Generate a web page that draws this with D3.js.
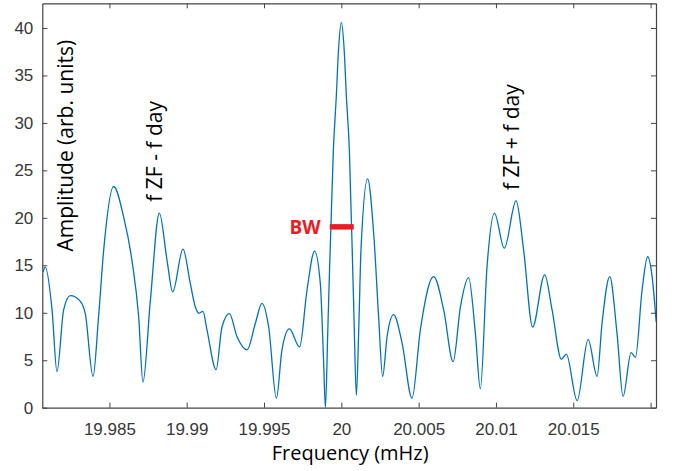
<!DOCTYPE html>
<html lang="en">
<head>
    <meta charset="UTF-8">
    <title>Amplitude spectrum</title>
    <script src="https://d3js.org/d3.v7.min.js"></script>
    <style>
        * {
            margin: 0;
            padding: 0;
            box-sizing: border-box;
        }

        body {
            background: #fff;
            overflow: hidden;
        }

        .tick text {
            font-family: 'Liberation Sans', Arial, sans-serif;
            font-size: 17px;
            fill: #383838;
        }

        .note {
            font-family: 'Open Sans', sans-serif;
            fill: #000;
        }
    </style>
</head>
<body>
    <div id="chart"></div>

    <script>
        // frequency (mHz) and amplitude
        const freq = [
            19.98071, 19.98085, 19.98129, 19.98161, 19.98204, 19.98247, 19.98312, 19.98344,
            19.98394, 19.98430, 19.98463, 19.98527, 19.98592, 19.98646, 19.98689, 19.98717,
            19.98765, 19.98823, 19.98873, 19.98909, 19.98976, 19.99023, 19.99056, 19.99078,
            19.99105, 19.99131, 19.99190, 19.99228, 19.99276, 19.99325, 19.99390, 19.99444,
            19.99487, 19.99530, 19.99580, 19.99616, 19.99664, 19.99730, 19.99778, 19.99827,
            19.99864, 19.99885, 19.99897, 19.99913, 19.99948, 19.99968, 19.99981, 20.00000,
            20.00019, 20.00032, 20.00052, 20.00081, 20.00097, 20.00113, 20.00127, 20.00170,
            20.00209, 20.00241, 20.00267, 20.00296, 20.00338, 20.00393, 20.00457, 20.00511,
            20.00597, 20.00662, 20.00723, 20.00770, 20.00823, 20.00867, 20.00899, 20.00942,
            20.00990, 20.01054, 20.01130, 20.01179, 20.01237, 20.01315, 20.01363, 20.01423,
            20.01455, 20.01525, 20.01596, 20.01654, 20.01686, 20.01736, 20.01783, 20.01822,
            20.01874, 20.01902, 20.01945, 20.01981, 20.02010, 20.02036
        ];
        const amp = [
            14.3, 14.8, 10.3, 3.8, 10.3, 11.8, 11.2, 9.9,
            3.3, 9.6, 16.6, 23.3, 20.1, 15.5, 9.6, 2.7,
            11.3, 20.5, 15.5, 12.2, 16.7, 13.1, 10.6, 9.95,
            10.15, 8.2, 4.0, 8.5, 9.9, 7.5, 6.1, 8.9,
            11.0, 8.5, 1.0, 6.1, 8.3, 6.4, 12.4, 16.5,
            13.1, 5.0, 0.0, 8.5, 27.0, 33.0, 37.5, 40.6,
            37.5, 33.0, 27.1, 10.0, 1.3, 8.5, 16.6, 24.1,
            18.4, 9.6, 3.3, 7.5, 9.8, 6.8, 1.0, 8.2,
            13.8, 10.3, 4.85, 10.6, 13.7, 7.8, 2.0, 14.8,
            20.5, 16.8, 21.8, 16.6, 8.5, 14.0, 10.3, 5.1,
            5.65, 0.75, 7.2, 3.3, 8.9, 13.8, 7.8, 1.2,
            5.8, 5.3, 12.4, 15.9, 13.8, 9.05
        ];

        const xDomain = [19.98066, 20.02035];
        const yDomain = [0, 42.6];
        const xTicks = [19.985, 19.99, 19.995, 20, 20.005, 20.01, 20.015, 20.02];
        const xTickLabels = ['19.985', '19.99', '19.995', '20', '20.005', '20.01', '20.015', ''];
        const yTicks = [0, 5, 10, 15, 20, 25, 30, 35, 40];

        // bandwidth marker: from, to, level
        const bwFreq = [19.99925, 20.00080];
        const bwLevel = 19.05;

        // rotated labels: text, frequency, amplitude (centre)
        const notes = [
            { text: 'Amplitude (arb. units)', f: 19.98265, a: 27.6 },
            { text: 'f ZF - f day', f: 19.98843, a: 27.0 },
            { text: 'f ZF + f day', f: 20.01152, a: 28.5 }
        ];

        const width = 676;
        const height = 471;
        const margin = { left: 42.3, right: 20, top: 3.3, bottom: 63.3 };

        function drawChart() {
            const svg = d3.select('#chart')
                .append('svg')
                .attr('width', width)
                .attr('height', height);

            svg.append('rect')
                .attr('width', width)
                .attr('height', height)
                .attr('fill', '#fff');

            const x = d3.scaleLinear()
                .domain(xDomain)
                .range([margin.left, width - margin.right]);

            const y = d3.scaleLinear()
                .domain(yDomain)
                .range([height - margin.bottom, margin.top]);

            svg.append('defs').append('clipPath')
                .attr('id', 'plotClip')
                .append('rect')
                .attr('x', margin.left)
                .attr('y', margin.top)
                .attr('width', width - margin.left - margin.right)
                .attr('height', height - margin.top - margin.bottom);

            const points = freq.map((f, i) => [f, amp[i]]);

            const line = d3.line()
                .x(d => x(d[0]))
                .y(d => y(d[1]))
                .curve(d3.curveMonotoneX);

            svg.append('path')
                .datum(points)
                .attr('clip-path', 'url(#plotClip)')
                .attr('fill', 'none')
                .attr('stroke', '#0072BD')
                .attr('stroke-width', 1.3)
                .attr('d', line);

            // axes, MATLAB style: ticks inside, box all round
            const bottom = d3.axisBottom(x)
                .tickValues(xTicks)
                .tickFormat((d, i) => xTickLabels[i])
                .tickSizeInner(-5)
                .tickSizeOuter(0)
                .tickPadding(15);

            const top = d3.axisTop(x)
                .tickValues(xTicks)
                .tickFormat('')
                .tickSizeInner(-5)
                .tickSizeOuter(0);

            const left = d3.axisLeft(y)
                .tickValues(yTicks)
                .tickFormat(d3.format('d'))
                .tickSizeInner(-5)
                .tickSizeOuter(0)
                .tickPadding(9);

            const right = d3.axisRight(y)
                .tickValues(yTicks)
                .tickFormat('')
                .tickSizeInner(-5)
                .tickSizeOuter(0);

            const gB = svg.append('g').attr('transform', `translate(0,${y(0)})`).call(bottom);
            const gT = svg.append('g').attr('transform', `translate(0,${margin.top})`).call(top);
            const gL = svg.append('g').attr('transform', `translate(${margin.left},0)`).call(left);
            const gR = svg.append('g').attr('transform', `translate(${width - margin.right},0)`).call(right);

            [gB, gT, gL, gR].forEach(g => {
                g.attr('font-family', null).attr('font-size', null);
                g.selectAll('.domain').attr('stroke', '#444').attr('stroke-width', 1.2);
                g.selectAll('.tick line').attr('stroke', '#444').attr('stroke-width', 1);
            });

            svg.append('text')
                .attr('class', 'note')
                .attr('x', (margin.left + width - margin.right) / 2 + 1)
                .attr('y', 460)
                .attr('text-anchor', 'middle')
                .attr('font-size', 20)
                .text('Frequency (mHz)');

            notes.forEach(n => {
                svg.append('text')
                    .attr('class', 'note')
                    .attr('transform', `translate(${x(n.f)},${y(n.a)}) rotate(-90)`)
                    .attr('text-anchor', 'middle')
                    .attr('font-size', 21)
                    .text(n.text);
            });

            svg.append('line')
                .attr('x1', x(bwFreq[0]))
                .attr('x2', x(bwFreq[1]))
                .attr('y1', y(bwLevel))
                .attr('y2', y(bwLevel))
                .attr('stroke', '#ed1c24')
                .attr('stroke-width', 5.5);

            svg.append('text')
                .attr('class', 'note')
                .attr('x', x(bwFreq[0]) - 9)
                .attr('y', y(bwLevel) + 7.5)
                .attr('text-anchor', 'end')
                .attr('font-size', 19)
                .attr('font-weight', 'bold')
                .style('fill', '#ed1c24')
                .text('BW');
        }

        window.onload = drawChart;
    </script>
</body>
</html>
